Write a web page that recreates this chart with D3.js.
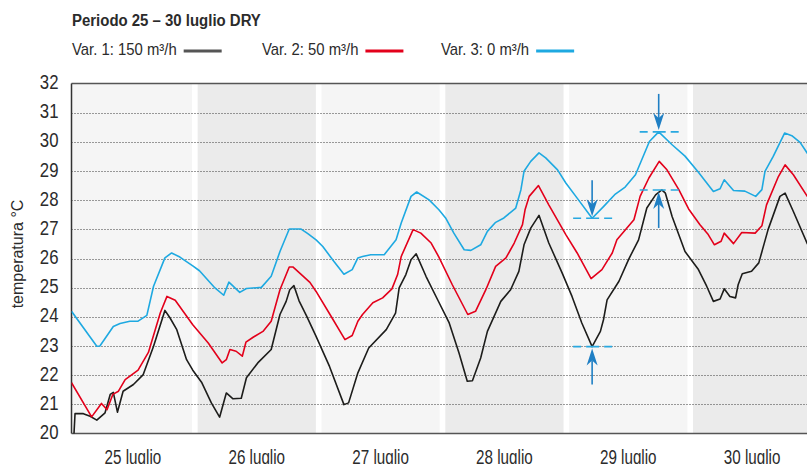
<!DOCTYPE html>
<html>
<head>
<meta charset="utf-8">
<script src="https://cdn.jsdelivr.net/npm/d3@7"></script>
<style>
  html, body { margin: 0; padding: 0; background: #fff; }
  svg { display: block; }
  text { font-family: "Liberation Sans", Arial, Helvetica, sans-serif; fill: #2b2b2b; }
</style>
</head>
<body>
<svg id="chart" width="807" height="464"></svg>
<script>
// ---- data -------------------------------------------------------------
const titleText = "Periodo 25 – 30 luglio DRY";
const dayLabels = ["25 luglio", "26 luglio", "27 luglio", "28 luglio", "29 luglio", "30 luglio"];
const yTicks = [20, 21, 22, 23, 24, 25, 26, 27, 28, 29, 30, 31, 32];
const seriesNames = ["Var. 1: 150 m³/h", "Var. 2: 50 m³/h", "Var. 3: 0 m³/h"];

// hours from 25 luglio 00:00, temperature in °C
const var1Hours = [0.58, 0.78, 2.4, 3.7, 5.0, 6.6, 7.6, 8.2, 9.0, 10.1, 12.1, 14.0, 16.0, 18.2, 19.2, 20.5, 22.4, 23.6,
  25.3, 27.2, 28.8, 30.1, 31.4, 33.0, 34.0, 36.2, 38.8, 40.5, 41.7, 42.4, 43.2, 44.2, 45.6, 47.5,
  50.1, 52.9, 53.8, 55.6, 57.7, 61.1, 62.9, 63.6, 64.9, 65.9, 66.9, 68.8, 71.3,
  73.3, 75.2, 76.8, 77.8, 79.4, 80.7, 83.3, 85.2, 86.8, 87.8, 89.1, 90.7, 92.6, 95.2,
  97.1, 99.0, 101.0, 102.6, 103.2, 103.9, 106.2, 108.1, 110.0, 111.6, 113.3, 114.5, 115.2, 116.5, 119.0,
  121.6, 123.2, 124.5, 125.8, 126.6, 127.7, 128.8, 129.3, 130.1, 131.9, 133.3, 135.1, 137.4, 138.4, 140.0, 142.7, 144];
const var1Temps = [20.0, 20.68, 20.68, 20.59, 20.46, 20.71, 21.34, 21.41, 20.73, 21.45, 21.68, 22.02, 22.99, 24.22, 23.96, 23.56, 22.53, 22.17,
  21.76, 21.05, 20.56, 21.39, 21.19, 21.21, 21.91, 22.42, 22.88, 24.08, 24.53, 24.93, 25.07, 24.55, 24.05, 23.33,
  22.30, 20.99, 21.05, 22.08, 22.93, 23.56, 24.13, 24.99, 25.45, 25.96, 26.16, 25.39, 24.50,
  23.79, 22.76, 21.79, 21.81, 22.59, 23.50, 24.53, 24.93, 25.56, 26.47, 27.04, 27.48, 26.53, 25.50,
  24.70, 23.79, 22.98, 23.50, 23.90, 24.58, 25.22, 25.98, 26.64, 27.73, 28.18, 28.35, 28.24, 27.44, 26.24,
  25.62, 25.05, 24.53, 24.61, 24.96, 24.70, 24.65, 25.10, 25.48, 25.56, 25.85, 26.99, 28.13, 28.24, 27.61, 26.51, 26.1];

const var2Hours = [0.1, 4.0, 5.9, 7.0, 8.1, 9.2, 10.5, 13.0, 15.0, 17.3, 18.6, 20.2, 23.6,
  26.6, 29.3, 30.1, 30.8, 32.0, 33.2, 33.9, 35.3, 37.2, 38.8, 40.5, 42.3, 43.0, 46.3, 47.5,
  50.4, 53.1, 54.5, 55.6, 56.5, 58.5, 60.4, 62.2, 63.3, 64.0, 66.3, 67.8, 69.8, 71.3,
  73.9, 76.9, 78.4, 80.4, 82.3, 84.3, 85.9, 87.5, 88.0, 88.8, 90.6, 92.6, 95.9,
  98.1, 100.8, 102.9, 104.9, 105.8, 109.1, 110.3, 112.0, 114.0, 115.5, 117.8, 119.7,
  121.9, 123.5, 124.7, 126.0, 126.6, 128.4, 130.0, 132.6, 133.9, 134.8, 137.1, 138.4, 140.0, 142.7, 144];
const var2Temps = [21.74, 20.57, 21.03, 20.82, 21.34, 21.45, 21.85, 22.17, 22.78, 24.13, 24.70, 24.57, 23.73,
  23.10, 22.42, 22.53, 22.88, 22.82, 22.65, 23.13, 23.30, 23.50, 23.85, 24.93, 25.71, 25.71, 25.18, 24.87,
  24.02, 23.22, 23.36, 23.85, 24.08, 24.48, 24.65, 24.96, 25.45, 26.07, 26.99, 26.87, 26.53, 26.05,
  25.10, 24.08, 24.19, 24.93, 25.73, 26.02, 26.53, 27.16, 27.67, 28.13, 28.50, 27.84, 26.82,
  26.19, 25.31, 25.62, 26.19, 26.64, 27.33, 28.13, 28.76, 29.33, 29.04, 28.36, 27.70,
  27.16, 26.82, 26.47, 26.59, 26.87, 26.51, 26.89, 26.87, 27.12, 27.84, 28.81, 29.21, 28.87, 28.13, 27.8];

const var3Hours = [0.1, 5.0, 5.6, 8.2, 9.5, 11.4, 13.0, 14.7, 16.0, 18.2, 19.5, 21.1, 23.6,
  24.9, 27.9, 29.6, 30.6, 32.7, 34.0, 36.9, 38.8, 40.5, 42.3, 44.6, 45.9, 47.5,
  48.8, 50.7, 52.9, 54.5, 55.6, 56.5, 58.1, 60.7, 63.0, 64.0, 65.9, 67.0, 69.4, 71.3,
  72.6, 74.2, 76.2, 77.5, 79.4, 80.7, 82.3, 83.9, 86.2, 87.2, 87.8, 89.1, 90.7, 92.0, 94.3, 95.9,
  98.1, 101.0, 103.2, 105.5, 107.4, 109.4, 112.1, 113.9, 116.5, 119.0,
  121.6, 124.5, 125.8, 126.6, 128.4, 130.6, 132.7, 133.9, 134.5, 136.1, 138.3, 139.7, 141.3, 142.7, 144];
const var3Temps = [24.19, 22.99, 23.0, 23.67, 23.77, 23.85, 23.85, 24.05, 25.05, 26.02, 26.19, 26.05, 25.75,
  25.58, 24.99, 24.74, 25.19, 24.84, 24.97, 25.01, 25.39, 26.24, 27.01, 27.01, 26.85, 26.64,
  26.41, 25.96, 25.46, 25.62, 26.02, 26.07, 26.13, 26.13, 26.64, 27.22, 28.13, 28.28, 28.01, 27.67,
  27.39, 26.87, 26.30, 26.28, 26.47, 26.93, 27.24, 27.39, 27.73, 28.36, 28.99, 29.33, 29.62, 29.45, 29.04, 28.59,
  28.07, 27.38, 27.78, 28.21, 28.45, 28.87, 30.01, 30.34, 29.90, 29.51,
  28.96, 28.30, 28.39, 28.70, 28.33, 28.31, 28.13, 28.36, 28.99, 29.50, 30.30, 30.21, 29.98, 29.61, 29.3];

// extremes of 29 luglio marked with arrows
const markHours = [101.0, 101.0, 113.9, 113.9];
const markTemps = [27.38, 22.98, 30.34, 28.35];
const markSides = ["above", "below", "above", "below"];

// ---- layout ------------------------------------------------------------
const plotLeft = 71.5, plotTop = 83.5, plotBottom = 433.5, plotRight = 807;
const colors = ["#1d1d1b", "#e3001b", "#1ea9e1"];
const swatchColors = ["#555555", "#e3001b", "#1ea9e1"];

const svg = d3.select("#chart");

const x = d3.scaleLinear().domain([0, 144]).range([71, 814]);
const y = d3.scaleLinear().domain([20, 32]).range([plotBottom, plotTop]);

// text drawn with a horizontal squeeze, giving a condensed face
function condensed(parent, tx, ty, sx, str) {
  return parent.append("text")
    .attr("transform", `translate(${tx},${ty}) scale(${sx},1)`)
    .text(str);
}

svg.append("defs").append("clipPath").attr("id", "plotClip")
  .append("rect").attr("x", plotLeft).attr("y", plotTop - 5)
  .attr("width", plotRight - plotLeft).attr("height", plotBottom - plotTop + 10);

// day bands
const bandGap = 2.8;
const bandX0 = i => Math.max(plotLeft, x(i * 24) + (i ? bandGap : 0));
const bandX1 = i => Math.min(plotRight, x((i + 1) * 24) - bandGap);
svg.append("g").selectAll("rect").data(dayLabels).join("rect")
  .attr("x", (d, i) => bandX0(i))
  .attr("y", plotTop)
  .attr("width", (d, i) => bandX1(i) - bandX0(i))
  .attr("height", plotBottom - plotTop)
  .attr("fill", (d, i) => i % 2 ? "#ebebeb" : "#f5f5f5");

// dotted grid lines
svg.append("g").selectAll("line").data(yTicks.filter(t => t > 20 && t < 32)).join("line")
  .attr("x1", plotLeft).attr("x2", plotRight)
  .attr("y1", d => Math.round(y(d)) + 0.5).attr("y2", d => Math.round(y(d)) + 0.5)
  .attr("stroke", "#3a3a3a").attr("stroke-width", 1).attr("stroke-dasharray", "1,2");

// frame: top, bottom and left
svg.append("line").attr("x1", plotLeft).attr("x2", plotRight).attr("y1", plotTop).attr("y2", plotTop)
  .attr("stroke", "#555").attr("stroke-width", 1.5);
svg.append("line").attr("x1", plotLeft).attr("x2", plotRight).attr("y1", plotBottom).attr("y2", plotBottom)
  .attr("stroke", "#555").attr("stroke-width", 1.5);
svg.append("line").attr("x1", plotLeft).attr("x2", plotLeft).attr("y1", plotTop).attr("y2", plotBottom)
  .attr("stroke", "#333").attr("stroke-width", 1.5);

// y tick labels
const yLab = svg.append("g").attr("font-size", 19.5).attr("text-anchor", "end");
yTicks.forEach(t => condensed(yLab, 58.5, y(t) + 5.5, 0.86, t));

// y axis title
svg.append("text")
  .attr("transform", "translate(23,254) rotate(-90)")
  .attr("text-anchor", "middle").attr("font-size", 16)
  .text("temperatura °C");

// x labels at the middle of each day
const xLab = svg.append("g").attr("font-size", 19.5).attr("text-anchor", "middle");
dayLabels.forEach((d, i) => condensed(xLab, x(i * 24 + 12), 464, 0.78, d));

// series lines
const series = [
  { hours: var1Hours, temps: var1Temps },
  { hours: var2Hours, temps: var2Temps },
  { hours: var3Hours, temps: var3Temps }
];
const line = d3.line().x(d => x(d[0])).y(d => y(d[1]));
const lines = svg.append("g").attr("clip-path", "url(#plotClip)");
series.forEach((s, i) => {
  lines.append("path")
    .datum(s.hours.map((h, k) => [h, s.temps[k]]))
    .attr("fill", "none")
    .attr("stroke", colors[i])
    .attr("stroke-width", 1.6)
    .attr("stroke-linejoin", "round")
    .attr("d", line);
});

// extreme markers: dashed level + arrow
const marks = svg.append("g");
markHours.forEach((h, k) => {
  const cx = x(h), cy = y(markTemps[k]);
  marks.append("line")
    .attr("x1", cx - 19).attr("x2", cx + 20).attr("y1", cy).attr("y2", cy)
    .attr("stroke", "#29a8e0").attr("stroke-width", 1.6)
    .attr("stroke-dasharray", "8,5,13,5,8,40");
  const dir = markSides[k] === "above" ? -1 : 1;
  const tip = cy + dir * 2, tail = cy + dir * 38;
  marks.append("line")
    .attr("x1", cx).attr("x2", cx).attr("y1", tail).attr("y2", tip + dir * 12)
    .attr("stroke", "#1f7fc4").attr("stroke-width", 1.6);
  marks.append("path")
    .attr("d", `M${cx},${tip} L${cx - 5.5},${tip + dir * 17} L${cx},${tip + dir * 12} L${cx + 5.5},${tip + dir * 17} Z`)
    .attr("fill", "#1f7fc4");
});

// title
const titleG = svg.append("g").attr("font-size", 17).attr("font-weight", "bold");
condensed(titleG, 72, 26, 0.88, titleText).attr("fill", "#222");

// legend
const legendX = [72, 262, 441];
const lg = svg.append("g").attr("font-size", 16);
seriesNames.forEach((name, i) => {
  const sx = 0.93;
  const t = condensed(lg, legendX[i], 55, sx, name).attr("fill", "#333");
  const w = t.node().getComputedTextLength() * sx;
  lg.append("line")
    .attr("x1", legendX[i] + w + 7).attr("x2", legendX[i] + w + 45)
    .attr("y1", 51).attr("y2", 51)
    .attr("stroke", swatchColors[i]).attr("stroke-width", 3);
});
</script>
</body>
</html>
